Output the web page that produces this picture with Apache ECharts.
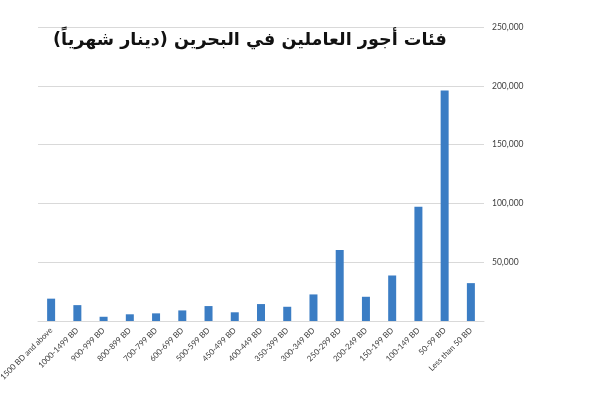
<!DOCTYPE html>
<html>
<head>
<meta charset="utf-8">
<script src="https://cdn.jsdelivr.net/npm/echarts@6/dist/echarts.min.js"></script>
<style>html,body{margin:0;padding:0;background:#fff}#c{width:600px;height:393px}</style>
</head>
<body>
<div id="c"></div>
<script>
const titleText = 'فئات أجور العاملين في البحرين (دينار شهرياً)';
const categories = ['1500 BD and above','1000-1499 BD','900-999 BD','800-899 BD','700-799 BD','600-699 BD','500-599 BD','450-499 BD','400-449 BD','350-399 BD','300-349 BD','250-299 BD','200-249 BD','150-199 BD','100-149 BD','50-99 BD','Less than 50 BD'];
const workers = [19000,13500,3600,5700,6500,9000,12700,7400,14400,12100,22600,60400,20600,38700,97100,196000,32200];
const yTicks = [0,50000,100000,150000,200000,250000];

const chart = echarts.init(document.getElementById('c'), null, {renderer:'canvas'});
chart.setOption({
  animation:false,
  backgroundColor:'#fff',
  title:{
    text:titleText,
    left:48, top:26,
    textStyle:{fontFamily:'DejaVu Sans', fontWeight:'bold', fontSize:17.6, color:'#111'}
  },
  grid:{left:38, right:116, top:27, bottom:72, containLabel:false, outerBoundsMode:'none'},
  xAxis:{
    type:'category', data:categories,
    axisLine:{show:true, lineStyle:{color:'#d9d9d9', width:1}},
    axisTick:{show:false},
    axisLabel:{rotate:45, interval:0, fontSize:8, color:'#404040', fontFamily:'Lato', margin:8}
  },
  yAxis:{
    type:'value', position:'right', min:yTicks[0], max:yTicks[yTicks.length-1], interval:yTicks[1]-yTicks[0],
    axisLine:{show:false}, axisTick:{show:false},
    splitLine:{lineStyle:{color:'#d9d9d9', width:1}},
    axisLabel:{
      fontSize:8.5, color:'#404040', fontFamily:'Lato', margin:8,
      formatter:v => v === 0 ? '' : v.toLocaleString('en-US')
    }
  },
  series:[{
    type:'bar', data:workers, barWidth:8,
    itemStyle:{color:'#3b7dc4'}
  }]
});
</script>
</body>
</html>
